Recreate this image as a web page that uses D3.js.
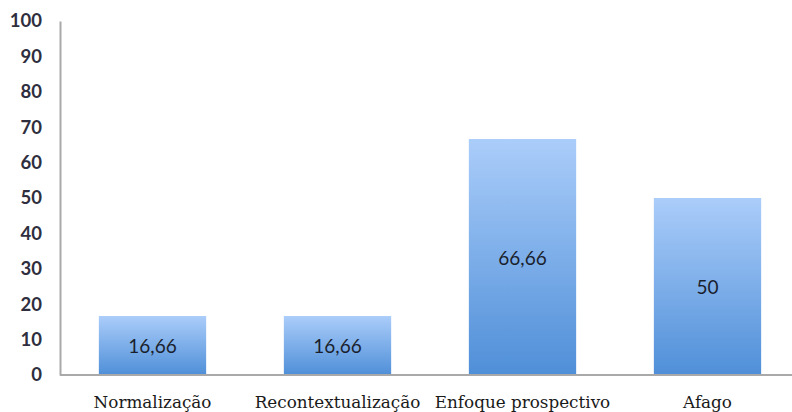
<!DOCTYPE html>
<html>
<head>
<meta charset="utf-8">
<script src="https://cdn.jsdelivr.net/npm/d3@7"></script>
<style>
  html, body { margin: 0; padding: 0; background: #fff; }
  svg { display: block; }
</style>
</head>
<body>
<svg id="chart" width="792" height="412"></svg>
<script>
// Categories and their percentages
const categories = ["Normalização", "Recontextualização", "Enfoque prospectivo", "Afago"];
const values = [16.66, 16.66, 66.66, 50];
const valueLabels = ["16,66", "16,66", "66,66", "50"];
const yTicks = [0, 10, 20, 30, 40, 50, 60, 70, 80, 90, 100];

const svg = d3.select("#chart");
const plotLeft = 60, plotRight = 800, plotTop = 21, plotBottom = 375;

const x = d3.scaleBand()
  .domain(categories)
  .range([plotLeft, plotRight])
  .paddingInner(0.42)
  .paddingOuter(0.21);

const y = d3.scaleLinear().domain([0, 100]).range([plotBottom, plotTop]);

// Vertical gradient for bars
const defs = svg.append("defs");
const grad = defs.append("linearGradient")
  .attr("id", "barGrad").attr("x1", 0).attr("y1", 0).attr("x2", 0).attr("y2", 1);
grad.append("stop").attr("offset", "0%").attr("stop-color", "#abcdfa");
grad.append("stop").attr("offset", "100%").attr("stop-color", "#4f8fd8");

// Bars
svg.append("g").selectAll("rect")
  .data(values)
  .join("rect")
  .attr("x", (d, i) => x(categories[i]))
  .attr("y", d => y(d))
  .attr("width", x.bandwidth())
  .attr("height", d => y(0) - y(d))
  .attr("fill", "url(#barGrad)");

// Value labels centred inside the bars
svg.append("g").selectAll("text")
  .data(values)
  .join("text")
  .attr("x", (d, i) => x(categories[i]) + x.bandwidth() / 2)
  .attr("y", d => (y(d) + y(0)) / 2)
  .attr("text-anchor", "middle")
  .attr("dominant-baseline", "central")
  .attr("font-family", "Lato, 'Open Sans', sans-serif")
  .attr("font-size", 19)
  .attr("fill", "#1a1f2e")
  .text((d, i) => valueLabels[i]);

// Y axis
const yAxis = svg.append("g")
  .attr("transform", `translate(${plotLeft},0)`)
  .call(d3.axisLeft(y).tickValues(yTicks).tickSize(0).tickPadding(18));
yAxis.select(".domain").attr("stroke", "#a9a9a9").attr("stroke-width", 2);
yAxis.selectAll("text")
  .attr("font-family", "Lato, 'Open Sans', sans-serif")
  .attr("font-size", 18.5)
  .attr("font-weight", "bold")
  .attr("fill", "#2e2e3e");

// X axis
const xAxis = svg.append("g")
  .attr("transform", `translate(0,${plotBottom})`)
  .call(d3.axisBottom(x).tickSize(0).tickPadding(21));
xAxis.select(".domain").attr("stroke", "#a9a9a9").attr("stroke-width", 2)
  .attr("d", `M${plotLeft},0H792`);
xAxis.selectAll("text")
  .attr("font-family", "'DejaVu Serif', 'Liberation Serif', serif")
  .attr("font-size", 16.8)
  .attr("fill", "#1a1a1a");
</script>
</body>
</html>
